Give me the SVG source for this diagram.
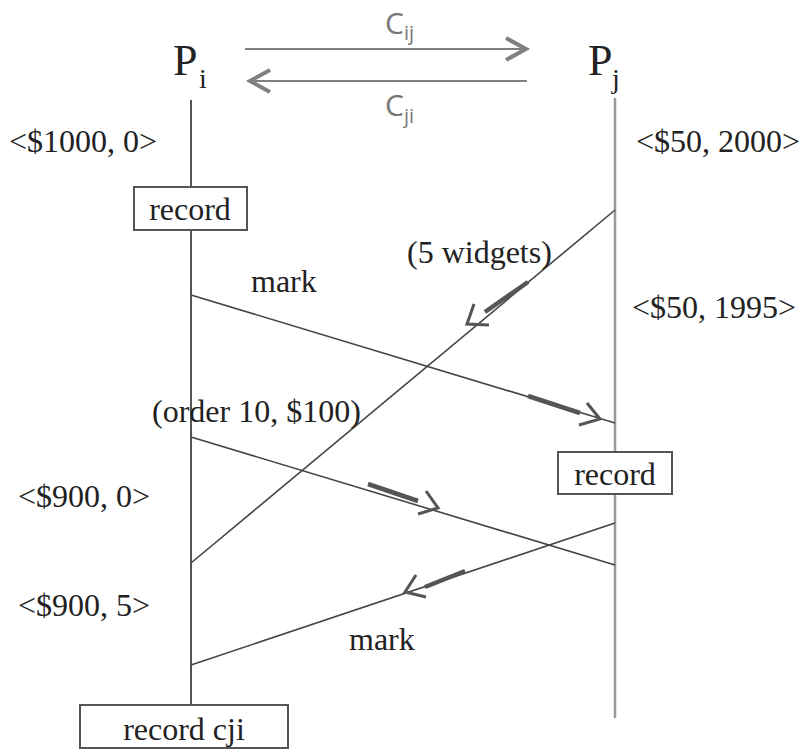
<svg xmlns="http://www.w3.org/2000/svg" width="808" height="749" viewBox="0 0 808 749">
<style>
.t{font-family:"Liberation Serif","Times New Roman",serif;font-size:32px;fill:#222}
.h{font-family:"Liberation Serif","Times New Roman",serif;fill:#222}
.c{font-family:"Open Sans","Noto Sans","Liberation Sans",sans-serif;fill:#777}
.life{stroke:#555;stroke-width:2;fill:none}
.lifej{stroke:#999;stroke-width:2.5;fill:none}
.msg{stroke:#444;stroke-width:1.6;fill:none}
.bold{stroke:#555;stroke-width:4.5;fill:none}
.head{stroke:#555;stroke-width:3;fill:none;stroke-linejoin:miter}
.ch{stroke:#808080;stroke-width:2;fill:none}
.chh{stroke:#808080;stroke-width:4;fill:none}
.box{fill:#fff;stroke:#555;stroke-width:2}
</style>
<rect width="808" height="749" fill="#fff"/>
<g id="Pi">
<line class="life" x1="191" y1="100" x2="191" y2="705"/>
<text class="h" x="173" y="75" font-size="44">P</text>
<text class="h" x="199" y="88" font-size="28">i</text>
</g>
<g id="Pj">
<line class="lifej" x1="615" y1="98" x2="615" y2="718"/>
<text class="h" x="588" y="75" font-size="44">P</text>
<text class="h" x="612" y="88" font-size="28">j</text>
</g>
<g id="channels">
<line class="ch" x1="245" y1="49" x2="526" y2="49"/>
<path class="chh" d="M506,38 L526,49 L506,60"/>
<line class="ch" x1="527" y1="81" x2="250" y2="81"/>
<path class="chh" d="M270,70 L250,81 L270,92"/>
<text class="c" x="385" y="34" font-size="30">C<tspan font-size="20" dy="6">ij</tspan></text>
<text class="c" x="385" y="116" font-size="30">C<tspan font-size="20" dy="7">ji</tspan></text>
</g>
<g id="record-i">
<rect class="box" x="134" y="187" width="113" height="43"/>
<text class="t" x="190" y="220" text-anchor="middle">record</text>
</g>
<g id="record-j">
<rect class="box" x="558" y="452" width="114" height="42"/>
<text class="t" x="615" y="485" text-anchor="middle">record</text>
</g>
<g id="record-cji">
<rect class="box" x="80" y="705" width="208" height="43"/>
<text class="t" x="184" y="740" text-anchor="middle">record cji</text>
</g>
<g id="states">
<text class="t" x="9" y="152">&lt;$1000, 0&gt;</text>
<text class="t" x="636" y="152">&lt;$50, 2000&gt;</text>
<text class="t" x="632" y="318">&lt;$50, 1995&gt;</text>
<text class="t" x="18" y="507">&lt;$900, 0&gt;</text>
<text class="t" x="18" y="616">&lt;$900, 5&gt;</text>
</g>
<g id="connectors">
<line class="msg" x1="615" y1="210" x2="191" y2="563"/>
<path class="bold" d="M528,282 L485,312"/>
<path class="head" d="M474,304 L467,324 L489,325"/>
<line class="msg" x1="191" y1="295" x2="615" y2="423"/>
<path class="bold" d="M528,396 L580,413"/>
<path class="head" d="M587,403 L600,419 L579,425"/>
<line class="msg" x1="191" y1="437" x2="615" y2="565"/>
<path class="bold" d="M368,484 L418,501"/>
<path class="head" d="M426,491 L438,508 L418,514"/>
<line class="msg" x1="615" y1="523" x2="191" y2="665"/>
<path class="bold" d="M465,571 L425,587"/>
<path class="head" d="M416,575 L405,592 L426,597"/>
</g>
<g id="labels">
<text class="t" x="407" y="263">(5 widgets)</text>
<text class="t" x="251" y="292">mark</text>
<text class="t" x="152" y="422">(order 10, $100)</text>
<text class="t" x="349" y="650">mark</text>
</g>
</svg>
